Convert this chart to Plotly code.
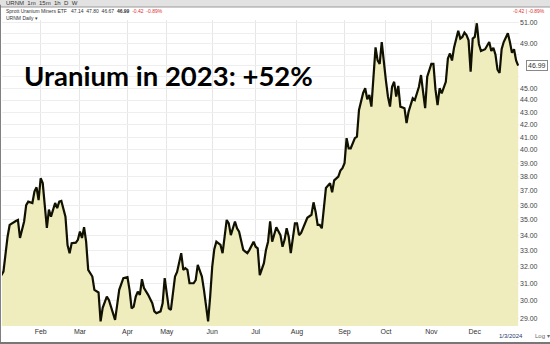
import plotly.graph_objects as go
import math

# trading-day index (0 = 2023-01-03) and closing price
day_idx = [0, 2, 4, 5, 8, 9, 10, 12, 13, 14, 16, 17, 18, 19, 20, 21, 23, 24, 25, 27,
           28, 29, 30, 32, 33, 34, 35, 37, 38, 39, 40, 41, 42, 43, 45, 46, 48, 49, 50, 52,
           53, 56, 57, 58, 60, 62, 63, 64, 65, 66, 67, 68, 69, 70, 72, 74, 75, 76, 78, 79,
           80, 81, 82, 83, 84, 85, 86, 87, 88, 89, 90, 91, 92, 94, 95, 96, 98, 99, 101, 102,
           103, 104, 105, 107, 108, 109, 110, 111, 112, 114, 115, 116, 118, 119, 120, 121, 123, 124, 125, 126,
           128, 129, 130, 131, 132, 134, 136, 137, 138, 139, 140, 141, 143, 144, 145, 146, 148, 149, 151, 152,
           153, 154, 155, 156, 158, 160, 161, 162, 164, 165, 166, 167, 168, 169, 170, 172, 173, 174, 176, 177,
           178, 179, 180, 181, 182, 183, 184, 185, 186, 187, 188, 189, 190, 191, 192, 193, 194, 196, 197, 198,
           200, 201, 203, 204, 205, 206, 207, 209, 210, 211, 212, 213, 214, 216, 217, 218, 219, 220, 222, 223,
           224, 225, 226, 227, 228, 229, 230, 231, 232, 233, 235, 236, 237, 238, 239, 240, 241, 242, 243, 244,
           246, 247, 248, 249, 250, 251]
close = [31.3, 31.72, 33.9, 34.67, 34.93, 35.0, 33.82, 34.9, 36.0, 36.25, 36.15, 36.95, 37.25, 36.35, 37.9, 37.55, 34.47, 35.7, 35.22, 36.15,
         35.8, 36.25, 36.3, 35.22, 33.37, 32.85, 33.48, 33.52, 33.7, 34.23, 33.82, 34.52, 33.58, 31.82, 31.42, 30.63, 30.48, 28.84, 29.6, 30.24,
         30.05, 28.93, 29.75, 30.63, 31.32, 31.38, 30.63, 29.57, 29.66, 30.24, 30.53, 30.34, 31.26, 30.73, 30.34, 29.86, 29.4, 29.3, 29.4, 29.86,
         31.32, 30.24, 29.57, 29.48, 30.43, 31.42, 31.7, 32.23, 32.85, 31.82, 31.92, 31.82, 31.02, 31.02, 31.2, 32.13, 31.42, 30.63, 28.84, 30.24,
         32.02, 33.1, 33.58, 33.37, 32.85, 33.9, 35.0, 34.77, 34.0, 34.9, 34.45, 34.23, 33.06, 32.95, 32.85, 33.06, 33.58, 33.26, 33.16, 31.5,
         32.23, 33.06, 33.58, 34.9, 33.58, 34.52, 34.0, 33.26, 33.7, 34.45, 33.9, 32.85, 34.77, 34.77, 34.0, 34.15, 34.9, 35.15, 35.35, 36.2,
         35.56, 34.67, 34.67, 34.45, 37.2, 37.55, 36.9, 37.75, 38.02, 38.46, 38.63, 39.0, 40.91, 40.13, 40.13, 40.91, 41.03, 43.18, 44.6, 45.0,
         44.07, 44.43, 43.45, 46.35, 48.65, 47.45, 47.15, 49.15, 47.15, 45.7, 44.3, 43.45, 45.13, 45.56, 44.3, 45.2, 43.45, 43.32, 42.11, 43.04,
         44.15, 44.0, 45.13, 46.15, 44.7, 43.32, 46.0, 47.15, 47.15, 44.88, 43.58, 45.0, 44.57, 45.56, 47.62, 48.09, 47.45, 48.65, 50.22, 49.47,
         49.63, 50.04, 49.8, 49.31, 46.45, 49.47, 49.63, 50.94, 48.97, 48.32, 48.48, 48.8, 49.15, 48.32, 48.6, 48.0, 46.62, 46.33, 48.48, 49.15,
         49.98, 49.15, 48.16, 48.48, 47.45, 46.99]

month_idx = [20, 39, 62, 81, 103, 124, 144, 167, 187, 209, 230]
month_labels = ["Feb", "Mar", "Apr", "May", "Jun", "Jul", "Aug", "Sep", "Oct", "Nov", "Dec"]

price_ticks = list(range(29, 52))
hidden_ticks = [46, 47, 48, 50]
price_labels = ["" if v in hidden_ticks else f"{v:.2f}" for v in price_ticks]

x_range = [1.3, 251.4]
y_range = [28.59, 51.26]

fig = go.Figure()
fig.add_trace(go.Scatter(
    x=day_idx, y=close, mode="lines",
    line=dict(color="#111100", width=2.2),
    fill="tozeroy", fillcolor="rgb(239,237,190)",
    hoverinfo="skip", showlegend=False,
))

fig.update_layout(
    width=550, height=344,
    margin=dict(l=2, r=31, t=20, b=18),
    paper_bgcolor="white", plot_bgcolor="white",
    font=dict(family="Liberation Sans, Arial", size=7, color="#444"),
    xaxis=dict(
        range=x_range, tickvals=month_idx, ticktext=month_labels,
        showgrid=True, gridcolor="#e6e6e6", gridwidth=1,
        zeroline=False, showline=False, ticks="",
        tickfont=dict(size=7, color="#333"),
    ),
    yaxis=dict(
        type="log", range=[math.log10(y_range[0]), math.log10(y_range[1])],
        side="right", tickvals=price_ticks, ticktext=price_labels,
        showgrid=True, gridcolor="#eeeeee", gridwidth=1,
        zeroline=False, showline=False, ticks="",
        tickfont=dict(size=7, color="#444"),
    ),
    shapes=[
        dict(type="rect", xref="paper", yref="paper", x0=-0.01, x1=1.1, y0=1.0 + 13 / 306, y1=1.1,
             fillcolor="#e2e2e2", line=dict(width=0), layer="above"),
        dict(type="line", xref="paper", yref="paper", x0=-0.01, x1=1.1, y0=1.0 + 13 / 306, y1=1.0 + 13 / 306,
             line=dict(color="#9a9a9a", width=1)),
        dict(type="line", xref="paper", yref="paper", x0=-0.004, x1=-0.004, y0=-0.1, y1=1.05,
             line=dict(color="#777", width=2)),
        dict(type="line", xref="paper", yref="paper", x0=-0.01, x1=1.1, y0=-17 / 306, y1=-17 / 306,
             line=dict(color="#777", width=2)),
    ],
)

fig.add_annotation(x=0.038, xref="paper", y=0.82, yref="paper", xanchor="left", yanchor="middle",
                   text="<b>Uranium in 2023: +52%</b>", showarrow=False,
                   font=dict(family="Lato, Noto Sans", size=27.5, color="black"))

fig.add_annotation(x=0.004, xref="paper", y=1.0 + 17 / 306, yref="paper", xanchor="left", yanchor="middle",
                   text="URNM  1m  15m  1h  D  W", showarrow=False, font=dict(size=6, color="#333"))
fig.add_annotation(x=0.004, xref="paper", y=1.0 + 9 / 306, yref="paper", xanchor="left", yanchor="middle",
                   text="Sprott Uranium Miners ETF   47.14  47.80  46.67  <b>46.99</b>  <span style='color:#e03030'>-0.42  -0.89%</span>",
                   showarrow=False, font=dict(size=5, color="#333"))
fig.add_annotation(x=0.004, xref="paper", y=1.0 + 2 / 306, yref="paper", xanchor="left", yanchor="middle",
                   text="URNM Daily ▾", showarrow=False, font=dict(size=5, color="#333"))
fig.add_annotation(x=1.055, xref="paper", y=1.0 + 9 / 306, yref="paper", xanchor="right", yanchor="middle",
                   text="<span style='color:#e03030'>-0.42 | -0.89%</span>", showarrow=False, font=dict(size=5))
fig.add_annotation(x=1.0, xref="paper", y=math.log10(close[-1]), yref="y", xanchor="left", yanchor="middle",
                   xshift=7, text="46.99", showarrow=False, font=dict(size=7, color="#333"),
                   bordercolor="#888", borderwidth=1, borderpad=1, bgcolor="white")
fig.add_annotation(x=0.985, xref="paper", y=-10 / 306, yref="paper", xanchor="center", yanchor="middle",
                   text="1/3/2024", showarrow=False, font=dict(size=6, color="#1a3a6a"))
fig.add_annotation(x=1.028, xref="paper", y=-10 / 306, yref="paper", xanchor="left", yanchor="middle",
                   text="Log ▾", showarrow=False, font=dict(size=6, color="#666"))

fig.write_html("out.html")
